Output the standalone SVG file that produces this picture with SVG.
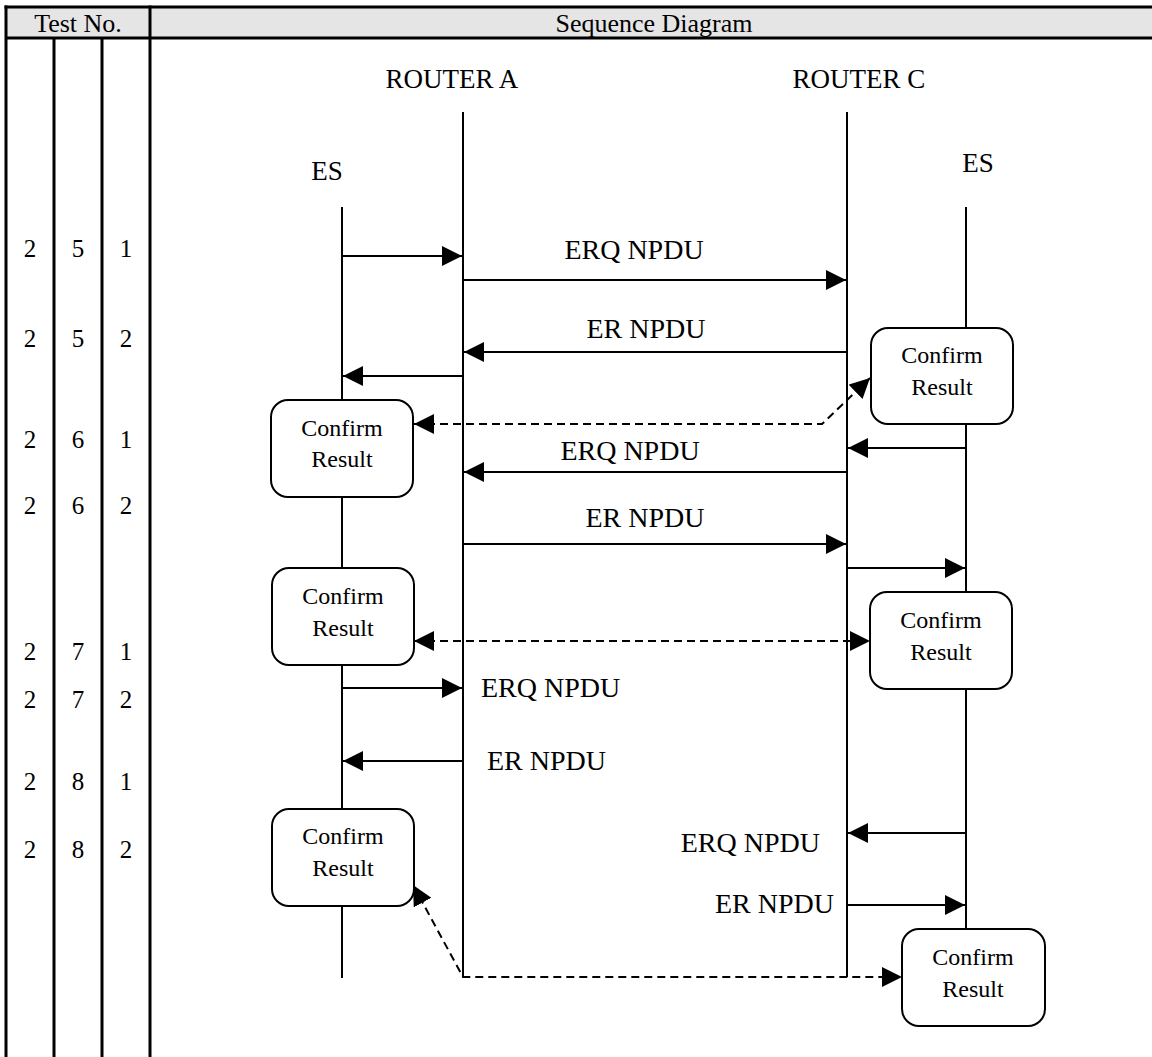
<svg xmlns="http://www.w3.org/2000/svg" width="1152" height="1057" viewBox="0 0 1152 1057" font-family="'Liberation Serif', 'Times New Roman', 'DejaVu Serif', serif">
<style>
text{font-family:'Liberation Serif','Times New Roman','DejaVu Serif',serif;fill:#000}
.tbl{stroke:#000;stroke-width:3;fill:none}
.hd{font-size:26px;text-anchor:middle}
.num{font-size:25px;text-anchor:middle}
.lbl{font-size:28px}
.ttl{font-size:27px;text-anchor:middle}
.ctr{text-anchor:middle}
.end{text-anchor:end}
.life{stroke:#000;stroke-width:2;fill:none}
.msg{stroke:#000;stroke-width:2;fill:none;marker-end:url(#ah)}
.dash{stroke:#000;stroke-width:2;fill:none;stroke-dasharray:8 5;marker-start:url(#ah);marker-end:url(#ah)}
.box{fill:#fff;stroke:#000;stroke-width:2}
.bt{font-size:24px;text-anchor:middle}
</style>
<defs>
<marker id="ah" markerUnits="userSpaceOnUse" markerWidth="20" markerHeight="20" viewBox="0 0 20 20" refX="20" refY="10" orient="auto-start-reverse">
<path d="M0,0 L20,10 L0,20 z" fill="#000" stroke="none"/>
</marker>
</defs>
<rect x="0" y="0" width="1152" height="1057" fill="#fff"/>
<g id="table">
<rect x="6" y="7" width="1146" height="31" fill="#e5e5e5"/>
<line class="tbl" x1="4.5" y1="7" x2="1152" y2="7"/>
<line class="tbl" x1="6" y1="38" x2="1152" y2="38"/>
<line class="tbl" x1="6" y1="5.5" x2="6" y2="1057"/>
<line class="tbl" x1="54" y1="38" x2="54" y2="1057"/>
<line class="tbl" x1="102" y1="38" x2="102" y2="1057"/>
<line class="tbl" x1="150" y1="5.5" x2="150" y2="1057"/>
<text class="hd" x="78" y="32">Test No.</text>
<text class="hd" x="654" y="32">Sequence Diagram</text>
<text class="num" x="30" y="257">2</text><text class="num" x="78" y="257">5</text><text class="num" x="126" y="257">1</text>
<text class="num" x="30" y="347">2</text><text class="num" x="78" y="347">5</text><text class="num" x="126" y="347">2</text>
<text class="num" x="30" y="448">2</text><text class="num" x="78" y="448">6</text><text class="num" x="126" y="448">1</text>
<text class="num" x="30" y="514">2</text><text class="num" x="78" y="514">6</text><text class="num" x="126" y="514">2</text>
<text class="num" x="30" y="660">2</text><text class="num" x="78" y="660">7</text><text class="num" x="126" y="660">1</text>
<text class="num" x="30" y="708">2</text><text class="num" x="78" y="708">7</text><text class="num" x="126" y="708">2</text>
<text class="num" x="30" y="790">2</text><text class="num" x="78" y="790">8</text><text class="num" x="126" y="790">1</text>
<text class="num" x="30" y="858">2</text><text class="num" x="78" y="858">8</text><text class="num" x="126" y="858">2</text>
</g>
<g id="es-left">
<text class="ttl" x="327" y="180">ES</text>
<line class="life" x1="342" y1="207" x2="342" y2="978"/>
</g>
<g id="router-a">
<text class="ttl" x="452" y="88">ROUTER A</text>
<line class="life" x1="463" y1="112" x2="463" y2="977"/>
</g>
<g id="router-c">
<text class="ttl" x="859" y="88">ROUTER C</text>
<line class="life" x1="847" y1="112" x2="847" y2="977"/>
</g>
<g id="es-right">
<text class="ttl" x="978" y="172">ES</text>
<line class="life" x1="966" y1="207" x2="966" y2="929"/>
</g>
<g id="connectors">
<line class="msg" x1="342" y1="256" x2="462" y2="256"/>
<line class="msg" x1="463" y1="280" x2="846" y2="280"/>
<text class="lbl ctr" x="634" y="259">ERQ NPDU</text>
<line class="msg" x1="847" y1="352" x2="464" y2="352"/>
<text class="lbl ctr" x="646" y="338">ER NPDU</text>
<line class="msg" x1="463" y1="376" x2="343" y2="376"/>
<path class="dash" d="M414,424 L822,424 L870,378"/>
<line class="msg" x1="966" y1="448" x2="848" y2="448"/>
<line class="msg" x1="847" y1="472" x2="464" y2="472"/>
<text class="lbl ctr" x="630" y="460">ERQ NPDU</text>
<line class="msg" x1="463" y1="544" x2="846" y2="544"/>
<text class="lbl ctr" x="645" y="527">ER NPDU</text>
<line class="msg" x1="847" y1="568" x2="965" y2="568"/>
<path class="dash" d="M414,641 L870,641"/>
<line class="msg" x1="342" y1="688" x2="462" y2="688"/>
<text class="lbl" x="481" y="697">ERQ NPDU</text>
<line class="msg" x1="463" y1="761" x2="343" y2="761"/>
<text class="lbl" x="487" y="770">ER NPDU</text>
<line class="msg" x1="966" y1="833" x2="848" y2="833"/>
<text class="lbl end" x="820" y="852">ERQ NPDU</text>
<line class="msg" x1="847" y1="905" x2="965" y2="905"/>
<text class="lbl end" x="834" y="913">ER NPDU</text>
<path class="dash" d="M413,885 L463,977 L902,977"/>
</g>
<g id="confirm-c1">
<rect class="box" x="871" y="328" width="142" height="96" rx="17"/>
<text class="bt" x="942" y="363">Confirm</text>
<text class="bt" x="942" y="395">Result</text>
</g>
<g id="confirm-a1">
<rect class="box" x="271" y="400" width="142" height="97" rx="17"/>
<text class="bt" x="342" y="436">Confirm</text>
<text class="bt" x="342" y="467">Result</text>
</g>
<g id="confirm-a2">
<rect class="box" x="272" y="568" width="142" height="97" rx="17"/>
<text class="bt" x="343" y="604">Confirm</text>
<text class="bt" x="343" y="636">Result</text>
</g>
<g id="confirm-c2">
<rect class="box" x="870" y="592" width="142" height="97" rx="17"/>
<text class="bt" x="941" y="628">Confirm</text>
<text class="bt" x="941" y="660">Result</text>
</g>
<g id="confirm-a3">
<rect class="box" x="272" y="809" width="142" height="97" rx="17"/>
<text class="bt" x="343" y="844">Confirm</text>
<text class="bt" x="343" y="876">Result</text>
</g>
<g id="confirm-c3">
<rect class="box" x="902" y="929" width="143" height="97" rx="17"/>
<text class="bt" x="973" y="965">Confirm</text>
<text class="bt" x="973" y="997">Result</text>
</g>
</svg>
